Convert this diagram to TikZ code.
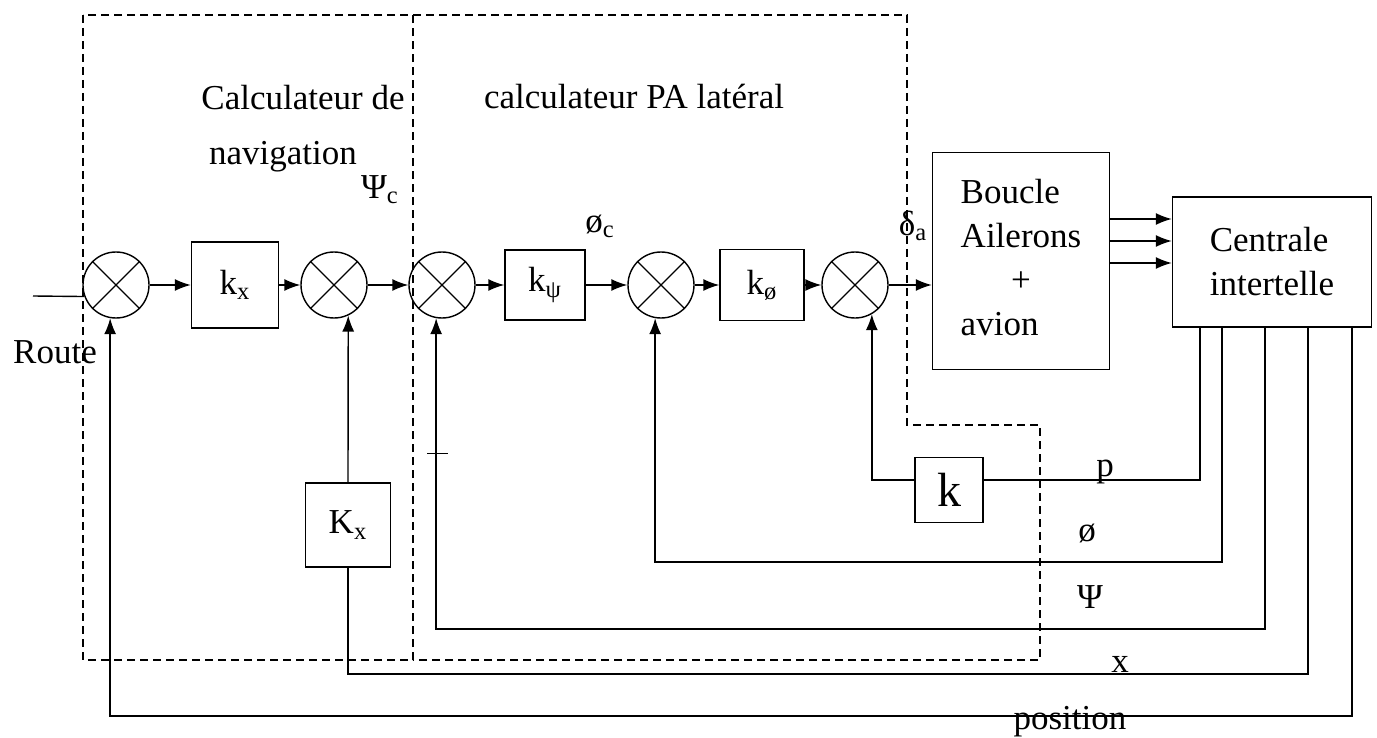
\documentclass[tikz,border=0pt]{standalone}
\usepackage{fontspec}
\setmainfont{Liberation Serif}
\usetikzlibrary{arrows.meta}

\begin{document}
\begin{tikzpicture}[x=0.5pt, y=-0.5pt, line width=0.7pt,
  every node/.style={font=\fontsize{17.5}{22}\selectfont, inner sep=0pt},
  sumj/.style={draw, circle, minimum size=33pt},
  blk/.style={draw, rectangle},
  sig/.style={-{Latex[length=8pt,width=6pt]}},
  zone/.style={line width=0.6pt, dash pattern=on 4pt off 2.5pt}]
  \useasboundingbox (0,0) rectangle (1377,738);
  \draw[zone] (83,15) rectangle (413,660);
  \draw[zone] (413,15) -- (907,15) -- (907,425) -- (1040,425) -- (1040,660) -- (413,660);
  \node (nav1) at (303,98) {Calculateur de};
  \node (nav2) at (283,157) {navigation};
  \node (pal) at (634,97) {calculateur PA latéral};
  \node[sumj] (c1) at (116,285) {};
  \node[sumj] (c2) at (334,285) {};
  \node[sumj] (c3) at (442,285) {};
  \node[sumj] (c4) at (661,285) {};
  \node[sumj] (c5) at (855,285) {};
  \foreach \c in {c1,c2,c3,c4,c5}
    \draw (\c.45) -- (\c.225) (\c.135) -- (\c.-45);
  \node[blk, minimum width=43.5pt, minimum height=43pt] (kx) at (235,285) {k\textsubscript{x}};
  \node[blk, minimum width=40pt, minimum height=35pt] (kpsi) at (545,285) {k\textsubscript{ψ}};
  \node[blk, minimum width=42pt, minimum height=35.5pt] (kphi) at (762,285) {k\textsubscript{ø}};
  \node[blk, minimum width=88.5pt, minimum height=108.5pt] (boucle) at (1021,261)
    {\begin{tabular}{@{}l@{}}Boucle\\Ailerons\\\multicolumn{1}{@{}c@{}}{+}\\avion\end{tabular}};
  \node[blk, minimum width=99.5pt, minimum height=65pt, align=left] (centrale) at (1272,262) {Centrale\\intertelle};
  \node[blk, minimum width=42.5pt, minimum height=42pt] (Kx) at (348,525) {K\textsubscript{x}};
  \node[blk, minimum width=34pt, minimum height=32.5pt, font=\fontsize{24}{28}\selectfont] (k) at (949,490) {k};
  \node (psic) at (380,190) {Ψ\textsubscript{c}};
  \node (phic) at (600,226) {ø\textsubscript{c}};
  \node (dela) at (913,226) {δ\textsubscript{a}};
  \node (route) at (55,352) {Route};
  \node (lp) at (1105,472) {p};
  \node (lphi) at (1087,533) {ø};
  \node (lpsi) at (1090,597) {Ψ};
  \node (lx) at (1120,664) {x};
  \node[anchor=base] (lpos) at (1070,729) {position};
  \coordinate (rin) at (33,296);
  \coordinate (o1) at (1200,327);
  \coordinate (o2) at (1222,327);
  \coordinate (o3) at (1265,327);
  \coordinate (o4) at (1308,327);
  \coordinate (o5) at (1352,327);
  \coordinate (yp) at (0,480);
  \coordinate (yphi) at (0,562);
  \coordinate (ypsi) at (0,629);
  \coordinate (yx) at (0,674);
  \coordinate (ypos) at (0,716);
  \draw (rin) -- (c1.200);
  \draw[sig] (c1) -- (kx);
  \draw[sig] (kx) -- (c2);
  \draw[sig] (c2) -- (c3);
  \draw[sig] (c3) -- (kpsi);
  \draw[sig] (kpsi) -- (c4);
  \draw[sig] (c4) -- (kphi);
  \draw[sig] (kphi) -- (c5);
  \draw[sig] (c5.east) -- (c5.east -| boucle.west);
  \foreach \y in {219,241,263} {
    \coordinate (yy) at (0,\y);
    \draw[sig] (boucle.east |- yy) -- (centrale.west |- yy);
  }
  \draw (o1) |- (k.east |- yp);
  \draw[sig] (k.west |- yp) -| (c5.-60);
  \draw[sig] (o2) |- (c4.-100 |- yphi) -- (c4.-100);
  \draw[sig] (o3) |- (c3.-100 |- ypsi) -- (c3.-100);
  \draw (o4) |- (Kx.south |- yx) -- (Kx.south);
  \draw[sig] (Kx.north) -- (c2.-65);
  \draw[sig] (o5) |- (c1.-100 |- ypos) -- (c1.-100);
  \draw[line width=0.5pt] (427,453) -- (448,453);
\end{tikzpicture}
\end{document}
